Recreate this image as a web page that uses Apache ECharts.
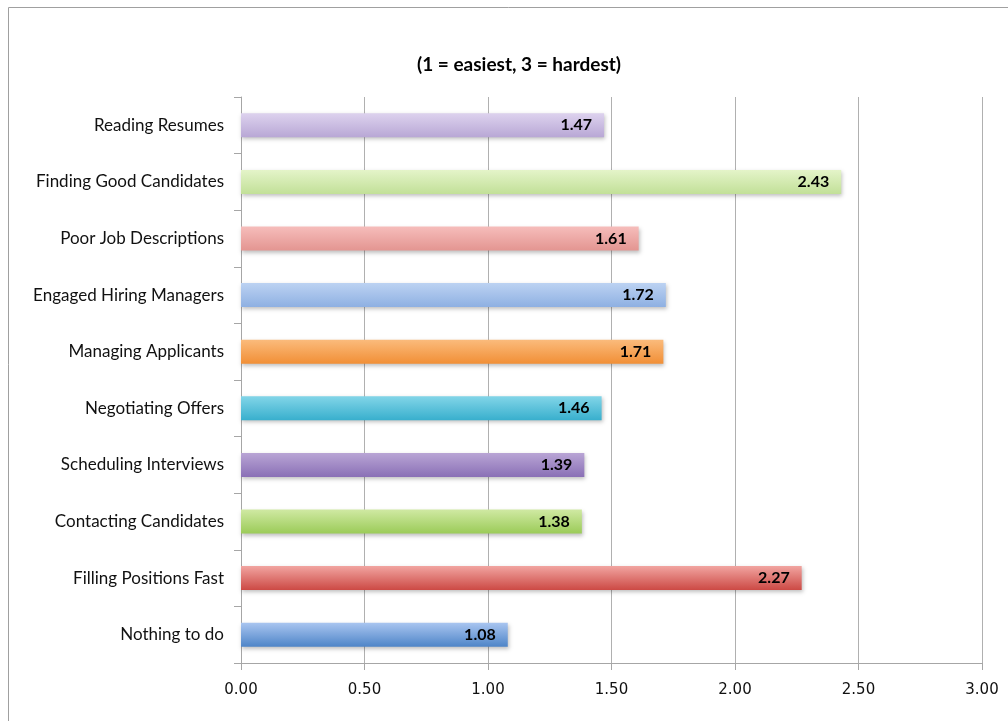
<!DOCTYPE html>
<html><head><meta charset="utf-8">
<script src="https://cdn.jsdelivr.net/npm/echarts@6/dist/echarts.min.js"></script>
<style>html,body{margin:0;padding:0;background:#fff}#c{width:1008px;height:721px}</style>
</head><body><div id="c"></div>
<script>
var titleText = '(1 = easiest, 3 = hardest)';
var categories = ['Reading Resumes','Finding Good Candidates','Poor Job Descriptions','Engaged Hiring Managers','Managing Applicants','Negotiating Offers','Scheduling Interviews','Contacting Candidates','Filling Positions Fast','Nothing to do'];
var values = [1.47, 2.43, 1.61, 1.72, 1.71, 1.46, 1.39, 1.38, 2.27, 1.08];
var colorTop = ['#ddd2ee','#e4f4c9','#f6bdbb','#bcd2f2','#fbbb7c','#82d5e8','#b9a5d5','#d0e9a3','#f1a4a0','#a9c5f0'];
var colorBottom = ['#b8a7d5','#c2e098','#e39591','#8eb0e2','#f18f36','#38afcd','#8a70b6','#9bcb58','#cc4944','#4e85c8'];

var chart = echarts.init(document.getElementById('c'));
var data = values.map(function(v,i){
  return {value:v, itemStyle:{color:new echarts.graphic.LinearGradient(0,0,0,1,[{offset:0,color:colorTop[i]},{offset:1,color:colorBottom[i]}])}};
});
chart.setOption({
  animation:false,
  title:{text:titleText,left:514,textAlign:'center',top:50,textStyle:{fontFamily:'Lato',fontSize:19,fontWeight:'bold',color:'#000'}},
  graphic:[{type:'rect',shape:{x:8.5,y:7.5,width:1200,height:900},style:{fill:'none',stroke:'#a0a0a0',lineWidth:1},silent:true}],
  grid:{left:241,right:26,top:97,bottom:58},
  xAxis:{type:'value',min:0,max:3,interval:0.5,
    axisLine:{show:true,lineStyle:{color:'#a6a6a6'}},
    axisTick:{show:true,length:7,lineStyle:{color:'#a6a6a6'}},
    splitLine:{show:true,lineStyle:{color:'#b0b0b0',width:1}},
    axisLabel:{formatter:function(v){return v.toFixed(2);},fontFamily:'DejaVu Sans',fontSize:15,color:'#111',margin:20}},
  yAxis:{type:'category',data:categories,inverse:true,
    axisLine:{show:true,lineStyle:{color:'#a6a6a6'}},
    axisTick:{show:true,length:7,lineStyle:{color:'#a6a6a6'}},
    axisLabel:{fontFamily:'Lato',fontSize:17,color:'#111',margin:17}},
  series:[{type:'bar',data:data,barWidth:24,
    label:{show:true,position:'insideRight',formatter:function(p){return p.value.toFixed(2);},fontFamily:'Lato',fontWeight:'bold',fontSize:16,color:'#000',distance:12},
    itemStyle:{shadowColor:'rgba(0,0,0,0.25)',shadowBlur:4,shadowOffsetX:1,shadowOffsetY:2}}]
});
</script></body></html>
